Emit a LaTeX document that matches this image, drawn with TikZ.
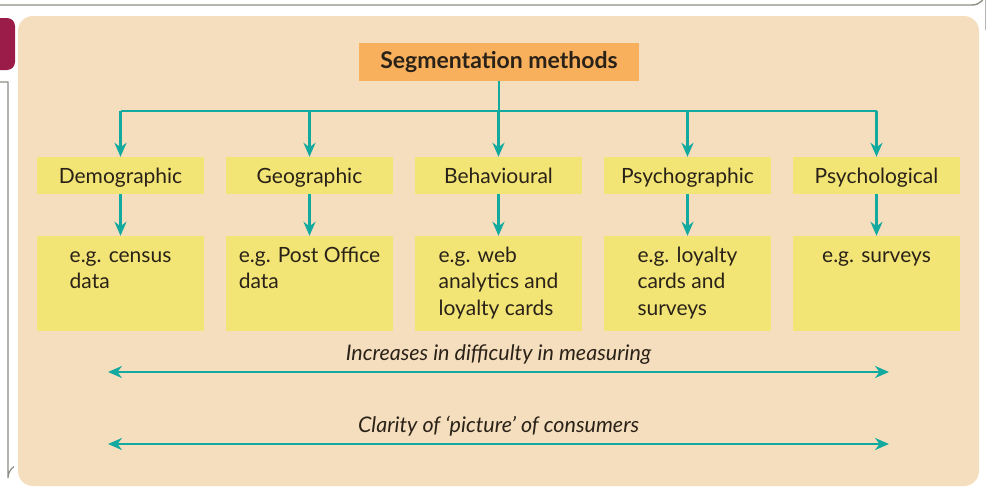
\documentclass[tikz,border=0pt]{standalone}
\usepackage{fontspec}
\setmainfont{Lato}
\usetikzlibrary{arrows.meta}
\definecolor{panel}{HTML}{F5DEBE}
\definecolor{ybox}{HTML}{F2E575}
\definecolor{obox}{HTML}{F9B05C}
\definecolor{teal2}{HTML}{12A99F}
\definecolor{ink}{HTML}{2A2218}
\definecolor{frame}{HTML}{8E8E86}
\definecolor{maroon2}{HTML}{9B1C48}
\tikzset{
  catbox/.style={fill=ybox, minimum width=167pt, minimum height=37pt, inner sep=0pt, text height=15pt, text depth=0pt, font=\fontsize{21}{25}\selectfont, text=ink},
  exbox/.style={fill=ybox, minimum width=167pt, minimum height=95pt, inner sep=0pt},
  extext/.style={anchor=base, inner sep=0pt, text=ink, font=\fontsize{21}{26.5}\selectfont},
  conn/.style={draw=teal2, line width=2.8pt},
  arr/.style={conn, -{Stealth[length=14pt, width=12pt]}},
  darr/.style={conn, {Stealth[length=14pt, width=12pt]}-{Stealth[length=14pt, width=12pt]}},
  caption/.style={anchor=base, inner sep=0pt, text=ink, font=\fontsize{21.5}{25}\selectfont\itshape}
}
\begin{document}
\begin{tikzpicture}[x=1pt, y=-1pt]
\useasboundingbox (0,0) rectangle (986,490);
% outer frame
\draw[frame, line width=1.4pt] (0,5) -- (972,5) arc[start angle=90, end angle=0, radius=14] -- (986,30);
\draw[frame, line width=1.2pt] (0,82) -- (8,82) -- (8,478) arc[start angle=180, end angle=235, radius=14];
\fill[maroon2, rounded corners=8pt] (-10,18) rectangle (15,70);
% panel
\fill[panel, rounded corners=15pt] (18,16) rectangle (979,486);
% title
\node[fill=obox, minimum width=280pt, minimum height=38pt, inner sep=0pt, text height=16pt, text depth=4pt, font=\fontsize{23}{26}\selectfont\bfseries, text=ink] (title) at (499,62) {Segmentation methods};
% categories
\foreach \n/\x/\t in {c1/120.5/Demographic, c2/309.5/Geographic, c3/498.5/Behavioural, c4/687.5/Psychographic, c5/876.5/Psychological}{
  \node[catbox] (\n) at (\x,175.5) {\t};
}
\foreach \n/\x in {e1/120.5, e2/309.5, e3/498.5, e4/687.5, e5/876.5}{
  \node[exbox] (\n) at (\x,283.5) {};
}
\node[extext] (t1) at (120.5,262) {\begin{tabular}[t]{@{}l@{}}e.g. census\\data\end{tabular}};
\node[extext] (t2) at (309.5,262) {\begin{tabular}[t]{@{}l@{}}e.g. Post Office\\data\end{tabular}};
\node[extext] (t3) at (498.5,262) {\begin{tabular}[t]{@{}l@{}}e.g. web\\analytics and\\loyalty cards\end{tabular}};
\node[extext] (t4) at (687.5,262) {\begin{tabular}[t]{@{}l@{}}e.g. loyalty\\cards and\\surveys\end{tabular}};
\node[extext] (t5) at (876.5,262) {\begin{tabular}[t]{@{}l@{}}e.g. surveys\end{tabular}};
% connectors
\coordinate (j) at (title.south |- 0,111);
\draw[conn] (title.south) -- (j);
\draw[conn] (c1.north |- j) -- (c5.north |- j);
\foreach \n in {c1,c2,c3,c4,c5}{
  \draw[arr] (\n.north |- j) -- (\n.north);
}
\foreach \a/\b in {c1/e1,c2/e2,c3/e3,c4/e4,c5/e5}{
  \draw[arr] (\a.south) -- (\b.north);
}
% captions
\node[caption] (cap1) at (498.5,360) {Increases in difficulty in measuring};
\node[caption] (cap2) at (498.5,432) {Clarity of `picture' of consumers};
\coordinate (a1l) at (108,372);
\coordinate (a1r) at (889,372);
\coordinate (a2l) at (108,444);
\coordinate (a2r) at (889,444);
\draw[darr] (a1l) -- (a1r);
\draw[darr] (a2l) -- (a2r);
\end{tikzpicture}
\end{document}
